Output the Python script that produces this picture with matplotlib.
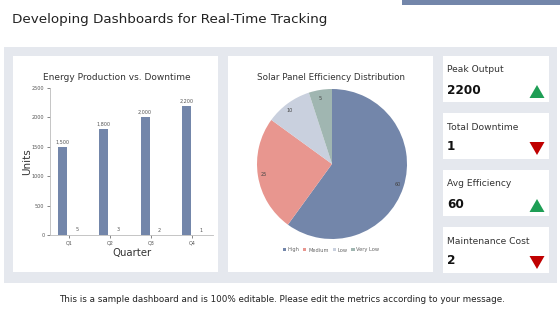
import matplotlib
matplotlib.use("Agg")
import matplotlib.pyplot as plt
from matplotlib.patches import Rectangle, Polygon
import numpy as np

quarters = ["Q1", "Q2", "Q3", "Q4"]
energy = [1500, 1800, 2000, 2200]
downtime = [5, 3, 2, 1]
energy_labels = ["1,500", "1,800", "2,000", "2,200"]

eff_labels = ["High", "Medium", "Low", "Very Low"]
eff_values = [60, 25, 10, 5]
eff_colors = ["#7386aa", "#e8968f", "#c9d0de", "#a0b6b1"]

kpi_names = ["Peak Output", "Total Downtime", "Avg Efficiency", "Maintenance Cost"]
kpi_values = ["2200", "1", "60", "2"]
kpi_up = [True, False, True, False]

W, H = 560, 315
fig = plt.figure(figsize=(W / 100, H / 100), dpi=100)
fig.patch.set_facecolor("white")

def px_rect(x, y, w, h, **kw):
    fig.patches.append(Rectangle((x / W, 1 - (y + h) / H), w / W, h / H,
                                 transform=fig.transFigure, zorder=-5, **kw))

def px_ax(x, y, w, h):
    return fig.add_axes([x / W, 1 - (y + h) / H, w / W, h / H])

def ftext(x, y, s, **kw):
    fig.text(x / W, 1 - y / H, s, **kw)

# header
px_rect(402, 0, 158, 5, color="#7386aa", lw=0)
ftext(12, 20, "Developing Dashboards for Real-Time Tracking", fontsize=9.7,
      va="center", ha="left", color="#222222")

# gray panel
px_rect(4, 47, 553, 236, color="#e5e8ee", lw=0)
# white cards
px_rect(13, 56, 205, 216, color="white", lw=0)
px_rect(228, 56, 205, 216, color="white", lw=0)
kpi_y = [56, 113, 170, 227]
for i, ky in enumerate(kpi_y):
    px_rect(443, ky, 106, 46, color="white", lw=0)
    ftext(447, ky + 14, kpi_names[i], fontsize=6.6, va="center", ha="left", color="#333333")
    ftext(447, ky + 34, kpi_values[i], fontsize=8.7, fontweight="bold", va="center",
          ha="left", color="#111111")
    cx, cy = 537, ky + 36
    if kpi_up[i]:
        pts = [(cx - 7.5, cy + 6), (cx + 7.5, cy + 6), (cx, cy - 7)]
        col = "#1e9e55"
    else:
        pts = [(cx - 7.5, cy - 7), (cx + 7.5, cy - 7), (cx, cy + 6)]
        col = "#c00000"
    fig.patches.append(Polygon([(a / W, 1 - b / H) for a, b in pts], closed=True,
                               transform=fig.transFigure, color=col, lw=0))

# bar chart
ax = px_ax(50, 88, 163, 147)
ax.patch.set_alpha(0)
x = np.arange(len(quarters))
ax.bar(x - 0.15, energy, width=0.22, color="#7386aa")
ax.bar(x + 0.2, downtime, width=0.22, color="#7386aa")
for xi, v, lab in zip(x - 0.15, energy, energy_labels):
    ax.text(xi, v + 40, lab, ha="center", va="bottom", fontsize=3.5, color="#555555")
for xi, v in zip(x + 0.2, downtime):
    ax.text(xi, v + 40, str(v), ha="center", va="bottom", fontsize=3.5, color="#555555")
ax.set_xlim(-0.46, 3.5)
ax.set_ylim(0, 2500)
ax.set_yticks([0, 500, 1000, 1500, 2000, 2500])
ax.set_xticks(x)
ax.set_xticklabels(quarters)
ax.tick_params(axis="both", labelsize=3.5, colors="#555555", length=2, width=0.5, pad=2)
for s in ["top", "right"]:
    ax.spines[s].set_visible(False)
for s in ["left", "bottom"]:
    ax.spines[s].set_color("#bbbbbb")
    ax.spines[s].set_linewidth(0.6)
ftext(27, 162, "Units", fontsize=7.5, rotation=90, ha="center", va="center", color="#333333")
ftext(132, 253, "Quarter", fontsize=7.3, ha="center", va="center", color="#333333")
ftext(117, 77, "Energy Production vs. Downtime", fontsize=6.5, ha="center",
      va="center", color="#333333")

# pie chart
pax = px_ax(257, 89, 150, 150)
wedges, texts = pax.pie(eff_values, colors=eff_colors, startangle=90, counterclock=False,
                        labels=[str(v) for v in eff_values], labeldistance=0.88,
                        textprops=dict(fontsize=3.5, color="#444444"))
pax.set_xlim(-1, 1)
pax.set_ylim(-1, 1)
pax.set_aspect("equal")
ftext(331, 77, "Solar Panel Efficiency Distribution", fontsize=6.3, ha="center",
      va="center", color="#333333")
leg = fig.legend(wedges, eff_labels, loc="center", bbox_to_anchor=(331 / W, 1 - 250 / H),
                 ncol=4, frameon=False, fontsize=3.7, handlelength=0.6, handleheight=0.6,
                 columnspacing=0.8, handletextpad=0.3)
for t in leg.get_texts():
    t.set_color("#666666")

# footer
ftext(282, 299, "This is a sample dashboard and is 100% editable. Please edit the metrics according to your message.",
      fontsize=6.3, ha="center", va="center", color="#222222")

fig.savefig("out.png", dpi=100, facecolor="white")
